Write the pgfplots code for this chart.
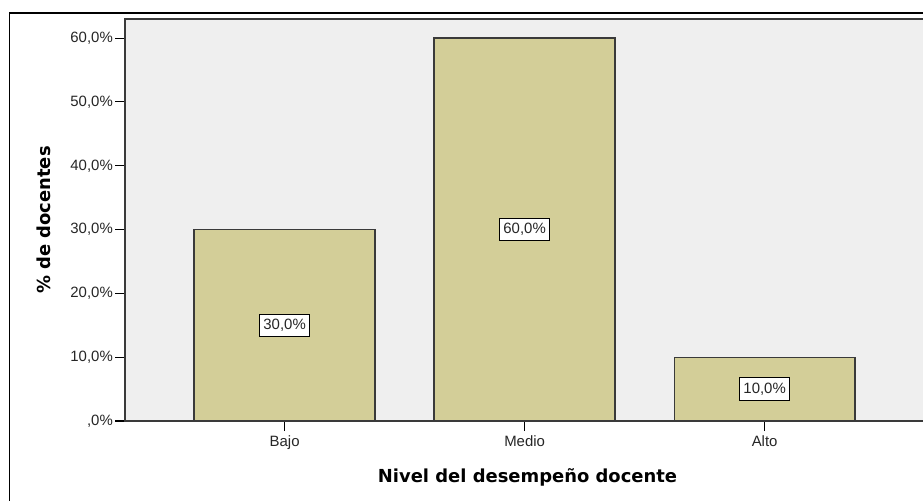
\documentclass[border=0pt]{standalone}
\usepackage{fontspec}
\setmainfont{Liberation Sans}
\newfontfamily\dejavu{DejaVu Sans}
\usepackage{pgfplots}
\pgfplotsset{compat=1.18}
\definecolor{barfill}{HTML}{D3CE98}
\definecolor{plotbg}{HTML}{EFEFEF}
\definecolor{edge}{HTML}{3A3A3A}
\begin{document}
\begin{tikzpicture}
\useasboundingbox (0,0) rectangle (923bp,501bp);
\fill[white] (0,0) rectangle (923bp,501bp);
\draw[black, line width=1.6bp] (9.5bp,-20bp) -- (9.5bp,488bp) -- (940bp,488bp);
\begin{axis}[
  at={(125bp,80bp)}, anchor=south west,
  scale only axis,
  width=805bp, height=402bp,
  xmin=-0.665, xmax=2.689,
  ymin=0, ymax=63,
  axis background/.style={fill=plotbg},
  axis line style={edge, line width=1.3bp},
  xtick={0,1,2},
  xticklabels={Bajo,Medio,Alto},
  ytick={0,10,20,30,40,50,60},
  yticklabels={{,0\%},{10,0\%},{20,0\%},{30,0\%},{40,0\%},{50,0\%},{60,0\%}},
  tick align=outside,
  tick pos=left,
  major tick length=10bp,
  tick style={black, line width=1.1bp},
  ticklabel style={font=\fontsize{15}{17}\selectfont, text=black!85},
  yticklabel style={inner xsep=2bp},
  xticklabel style={inner ysep=4bp},
  xlabel={Nivel del desempeño docente},
  ylabel={\% de docentes},
  xlabel style={font=\dejavu\bfseries\fontsize{18}{20}\selectfont, at={(axis description cs:0.5,-0.1393)}, anchor=center},
  ylabel style={font=\dejavu\bfseries\fontsize{18}{20}\selectfont, at={(axis description cs:-0.1006,0.5)}, anchor=center},
  clip=false,
]
\addplot[ybar, bar width=0.754, fill=barfill, draw=edge, line width=1.3bp]
  coordinates {(0,30) (1,60) (2,10)};
\addplot[draw=none, mark=none, point meta=explicit,
  nodes near coords={\pgfmathprintnumber[fixed,fixed zerofill,precision=1,use comma,assume math mode=true]{\pgfplotspointmeta}\%},
  nodes near coords align={anchor=center},
  every node near coord/.style={anchor=center, draw=black, fill=white, line width=1bp, font=\fontsize{15}{17}\selectfont, text=black!85, inner xsep=4bp, inner ysep=5bp}]
  coordinates {(0,15) [30] (1,30) [60] (2,5) [10]};
\end{axis}
\end{tikzpicture}
\end{document}
